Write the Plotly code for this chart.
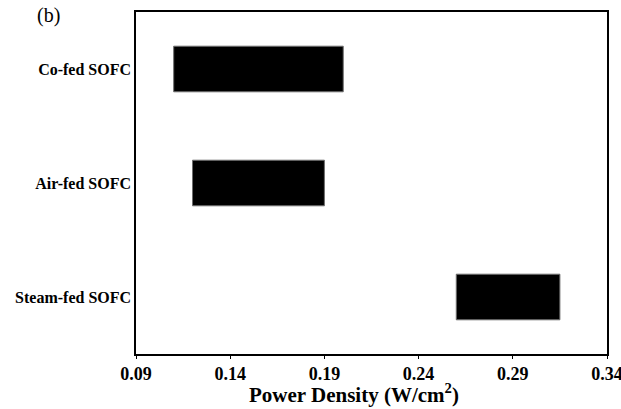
import plotly.graph_objects as go

# Power density operating ranges for each SOFC configuration (W/cm^2)
configs = ["Co-fed SOFC", "Air-fed SOFC", "Steam-fed SOFC"]
range_low = [0.11, 0.12, 0.26]
range_high = [0.20, 0.19, 0.315]
x_ticks = [0.09, 0.14, 0.19, 0.24, 0.29, 0.34]

serif = "Liberation Serif, Times New Roman, serif"

fig = go.Figure(
    go.Bar(
        y=configs,
        x=[hi - lo for lo, hi in zip(range_low, range_high)],
        base=range_low,
        orientation="h",
        width=0.4,
        marker=dict(color="black", line=dict(color="#6e6e6e", width=1)),
    )
)

fig.update_layout(
    width=621,
    height=409,
    margin=dict(l=136, r=14, t=12, b=55),
    plot_bgcolor="white",
    paper_bgcolor="white",
    showlegend=False,
    font=dict(family=serif, color="black"),
)

fig.update_xaxes(
    range=[0.09 - 1e-6, 0.34 + 1e-6],
    tickvals=x_ticks,
    ticktext=[f"{v:.2f}" for v in x_ticks],
    tickfont=dict(size=18, family=serif, weight="bold"),
    ticklabeloverflow="allow",
    ticks="outside",
    ticklen=3,
    tickcolor="black",
    showline=True,
    linecolor="black",
    linewidth=1.5,
    mirror=True,
    showgrid=False,
    zeroline=False,
    automargin=False,
)

fig.update_yaxes(
    categoryorder="array",
    categoryarray=configs[::-1],
    range=[-0.5, 2.5],
    tickfont=dict(size=16, family=serif, weight="bold"),
    ticks="",
    ticklabelstandoff=0,
    showline=True,
    linecolor="black",
    linewidth=1.5,
    mirror=True,
    showgrid=False,
    zeroline=False,
    automargin=False,
)

# x-axis title, set slightly left of the plot centre
fig.add_annotation(
    text="<b>Power Density (W/cm<sup>2</sup>)</b>",
    xref="paper",
    yref="paper",
    x=0.463,
    y=-0.116,
    xanchor="center",
    yanchor="middle",
    showarrow=False,
    font=dict(size=21, family=serif),
)

# panel label
fig.add_annotation(
    text="(b)",
    xref="paper",
    yref="paper",
    x=-0.185,
    y=0.99,
    xanchor="center",
    yanchor="middle",
    showarrow=False,
    font=dict(size=20, family=serif),
)

fig.write_html("out.html")
